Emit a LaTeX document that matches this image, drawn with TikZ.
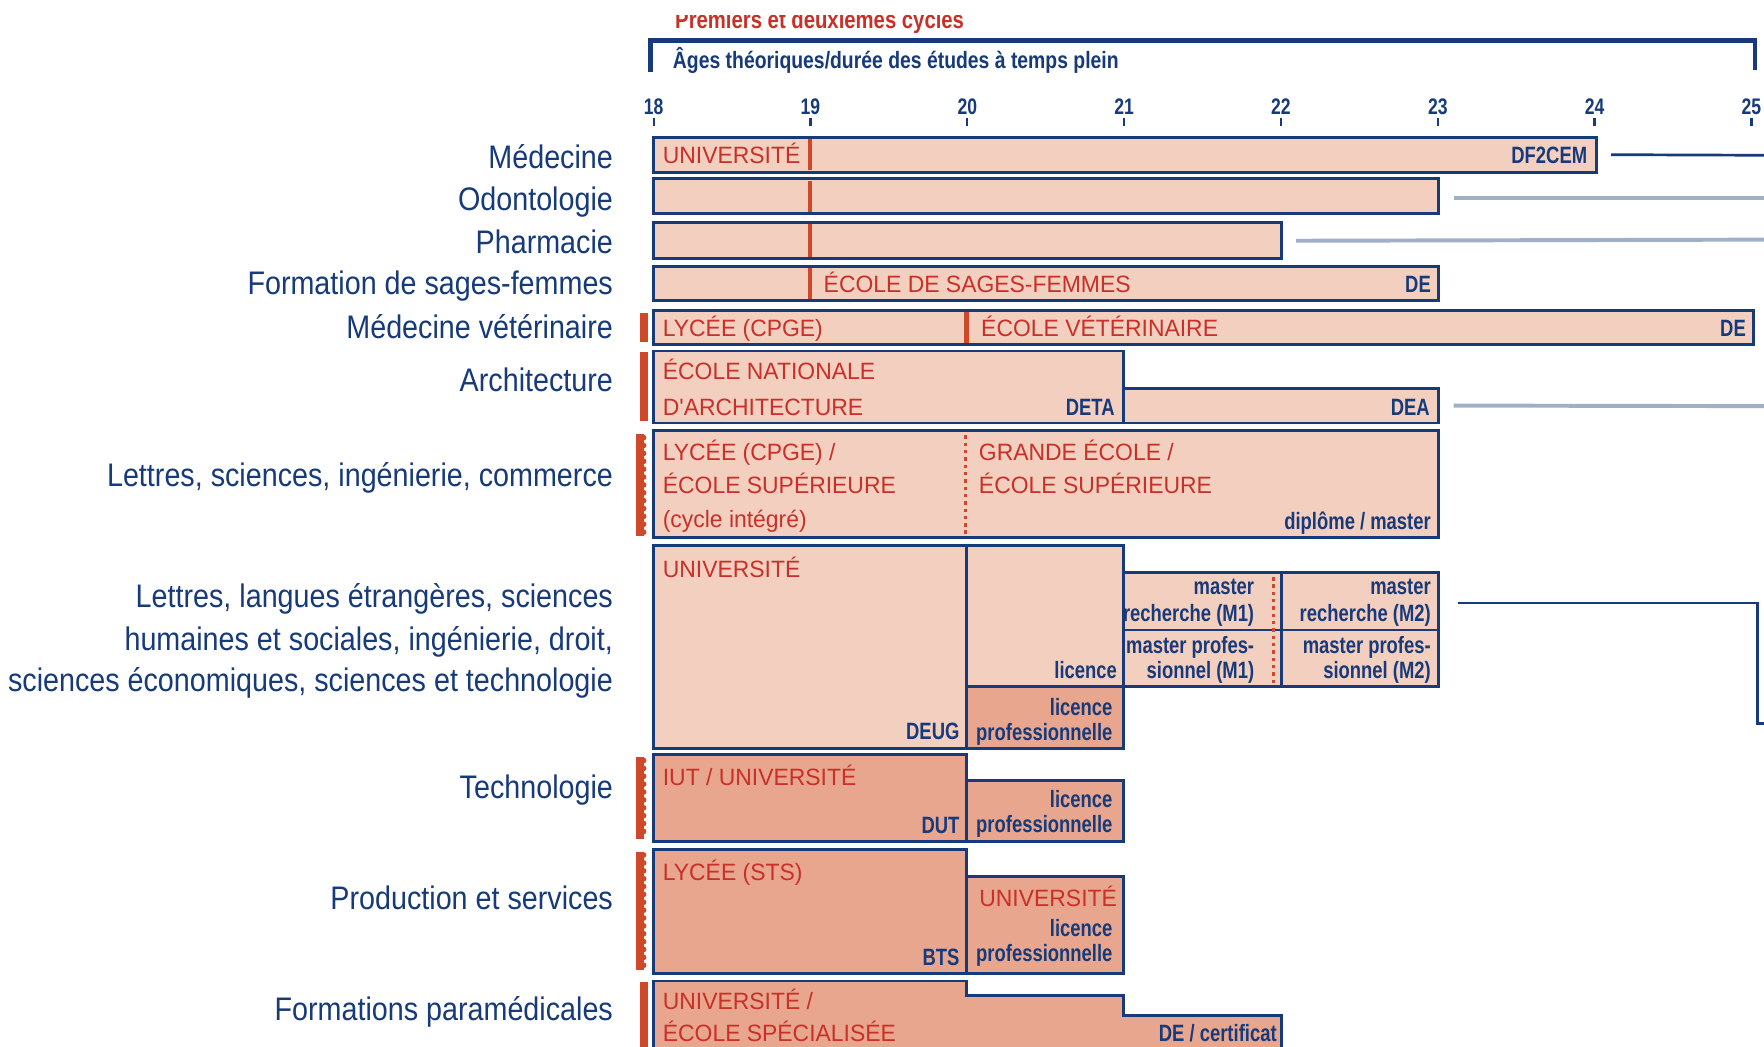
\documentclass[tikz,border=0pt]{standalone}
\usepackage{fontspec}
\setmainfont{Liberation Sans}
\newfontfamily\lblfamily{Liberation Sans}[FakeStretch=0.88]
\newfontfamily\capsfamily{Liberation Sans}[FakeStretch=0.97]
\newfontfamily\narrowfamily{Liberation Sans Bold}[FakeStretch=0.78]
\newfontfamily\hdrfamily{Liberation Sans Bold}[FakeStretch=0.82]
\definecolor{cNavy}{RGB}{22,58,122}
\definecolor{cRed}{RGB}{200,48,40}
\definecolor{cBar}{RGB}{208,72,42}
\definecolor{cLight}{RGB}{243,207,192}
\definecolor{cDark}{RGB}{233,166,142}
\definecolor{cGray}{RGB}{160,174,200}
\tikzset{
  bx/.style={draw=cNavy, line width=2.6pt, fill=cLight, inner sep=0pt, outer sep=0pt, anchor=north west},
  bxd/.style={bx, fill=cDark},
  rtxt/.style={text=cRed, font=\capsfamily\fontsize{21}{30}\selectfont, inner sep=0pt, anchor=base west},
  rtxtr/.style={rtxt, anchor=base east},
  btxt/.style={text=cNavy, font=\narrowfamily\fontsize{21}{22}\selectfont, inner sep=0pt, anchor=base east},
  lbl/.style={text=cNavy, font=\lblfamily\fontsize{29}{38}\selectfont, inner sep=0pt, anchor=base east},
  redbar/.style={draw=cBar, line width=4pt},
  reddots/.style={draw=cBar, line width=2.5pt, dash pattern=on 3pt off 3.5pt},
  link/.style={draw=cNavy, line width=2.4pt},
  graylink/.style={draw=cGray, line width=3.5pt},
  tick/.style={draw=cNavy, line width=2pt},
}
\newcommand\bxnode[6]{\node[#6, minimum width={(#4-#2)*1pt}, minimum height={(#5-#3)*1pt}] (#1) at (#2,#3) {};}
\newcommand\solidmark[2]{\fill[cBar] (569,#1) rectangle (576,#2);}
\newcommand\scallopmark[2]{\fill[cBar] (565,#1) rectangle (572,#2);
  \pgfmathsetmacro\sfirst{#1+3}\pgfmathsetmacro\ssecond{#1+10}\pgfmathsetmacro\slast{#2-3}
  \foreach \yy in {\sfirst,\ssecond,...,\slast} {\fill[cBar] (572,\yy) circle (2.6);}}
\begin{document}
\begin{tikzpicture}[x=1pt,y=-1pt]
\useasboundingbox (0,0) rectangle (1568,930);
\clip (0,0) rectangle (1568,930);
\fill[white] (0,0) rectangle (1568,930);

% header
\begin{scope}
\clip (0,14) rectangle (1568,60);
\node[text=cRed, font=\hdrfamily\fontsize{22}{22}\selectfont, inner sep=0pt, anchor=base west] (hdr) at (600,25) {Premiers et deuxièmes cycles};
\end{scope}
\draw[cNavy, line width=4pt] (578,64) -- (578,36) -- (1560,36) -- (1560,62);
\node[text=cNavy, font=\hdrfamily\fontsize{21}{22}\selectfont, inner sep=0pt, anchor=base west] (ages) at (598,61) {Âges théoriques/durée des études à temps plein};

% axis
\foreach \a in {18,...,25} {
  \pgfmathsetmacro\xx{581+(\a-18)*139.4}
  \node[text=cNavy, font=\narrowfamily\fontsize{20}{22}\selectfont, inner sep=0pt, anchor=base] (age\a) at (\xx,102) {\a};
  \draw[tick] (\xx,105) -- (\xx,112);
}

% left labels
\node[lbl] (l1) at (545,150) {Médecine};
\node[lbl] (l2) at (545,187) {Odontologie};
\node[lbl] (l3) at (545,225) {Pharmacie};
\node[lbl] (l4) at (545,262) {Formation de sages-femmes};
\node[lbl] (l5) at (545,301) {Médecine vétérinaire};
\node[lbl] (l6) at (545,348) {Architecture};
\node[lbl] (l7) at (545,432) {Lettres, sciences, ingénierie, commerce};
\node[lbl] (l8a) at (545,540) {Lettres, langues étrangères, sciences};
\node[lbl] (l8b) at (545,578) {humaines et sociales, ingénierie, droit,};
\node[lbl] (l8c) at (545,615) {sciences économiques, sciences et technologie};
\node[lbl] (l9) at (545,710) {Technologie};
\node[lbl] (l10) at (545,808) {Production et services};
\node[lbl] (l11) at (545,907) {Formations paramédicales};

% markers
\solidmark{278}{304}
\solidmark{313}{374}
\scallopmark{386}{476}
\scallopmark{673}{746}
\scallopmark{757}{862}
\solidmark{873}{932}

% boxes
\bxnode{med}{581}{122}{1419}{153}{bx}
\bxnode{odo}{581}{159}{1279}{190}{bx}
\bxnode{pha}{581}{198}{1139}{230}{bx}
\bxnode{sf}{581}{237}{1279}{267}{bx}
\bxnode{vet}{581}{276}{1559}{306}{bx}
\bxnode{archa}{581}{312}{999}{376}{bx}
\bxnode{archb}{999}{345}{1279}{376}{bx}
\bxnode{lsic}{581}{383}{1279}{478}{bx}
\bxnode{univ}{581}{485}{859}{665}{bx}
\bxnode{lic}{859}{485}{999}{610}{bx}
\bxnode{licpro}{859}{610}{999}{665}{bxd}
\bxnode{mra}{999}{509}{1139}{560}{bx}
\bxnode{mpa}{999}{560}{1139}{610}{bx}
\bxnode{mrb}{1139}{509}{1279}{560}{bx}
\bxnode{mpb}{1139}{560}{1279}{610}{bx}
\bxnode{iut}{581}{671}{859}{748}{bxd}
\bxnode{iutlp}{859}{694}{999}{748}{bxd}
\bxnode{sts}{581}{755}{859}{865}{bxd}
\bxnode{stslp}{859}{779}{999}{865}{bxd}
\draw[draw=cNavy, line width=2.6pt, fill=cDark] (581,940) -- (581,872) -- (859,872) -- (859,885) -- (999,885) -- (999,903) -- (1139,903) -- (1139,940) -- cycle;

% red separators
\draw[redbar] (720,123.5) -- (720,151.5);
\draw[redbar] (720,160.5) -- (720,188.5);
\draw[redbar] (720,199.5) -- (720,228.5);
\draw[redbar] (720,238.5) -- (720,265.5);
\draw[redbar] (859,277.5) -- (859,304.5);
\draw[reddots] (858,387) -- (858,476);
\draw[reddots] (1132,513) -- (1132,608);

% texts in boxes
\node[rtxt] (t1) at (589,145) {UNIVERSITÉ};
\node[btxt] (d1) at (1411,145) {DF2CEM};
\node[rtxt] (t4) at (732,260) {ÉCOLE DE SAGES-FEMMES};
\node[btxt] (d4) at (1272,260) {DE};
\node[rtxt] (t5a) at (589,299) {LYCÉE (CPGE)};
\node[rtxt] (t5b) at (872,299) {ÉCOLE VÉTÉRINAIRE};
\node[btxt] (d5) at (1552,299) {DE};
\node[rtxt] (t6a) at (589,337) {ÉCOLE NATIONALE};
\node[rtxt] (t6b) at (589,369) {D'ARCHITECTURE};
\node[btxt] (d6a) at (991,369) {DETA};
\node[btxt] (d6b) at (1271,369) {DEA};
\node[rtxt] (t7a) at (589,409) {LYCÉE (CPGE) /};
\node[rtxt] (t7b) at (589,439) {ÉCOLE SUPÉRIEURE};
\node[rtxt] (t7c) at (589,469) {(cycle intégré)};
\node[rtxt] (t7d) at (870,409) {GRANDE ÉCOLE /};
\node[rtxt] (t7e) at (870,439) {ÉCOLE SUPÉRIEURE};
\node[btxt] (d7) at (1272,471) {diplôme / master};
\node[rtxt] (t8) at (589,513) {UNIVERSITÉ};
\node[btxt] (d8a) at (853,657) {DEUG};
\node[btxt] (d8b) at (993,603) {licence};
\node[btxt] (d8c) at (989,636) {licence};
\node[btxt] (d8d) at (989,658) {professionnelle};
\node[btxt] (m1a) at (1115,528) {master};
\node[btxt] (m1b) at (1115,552) {recherche (M1)};
\node[btxt] (m1c) at (1115,581) {master profes-};
\node[btxt] (m1d) at (1115,603) {sionnel (M1)};
\node[btxt] (m2a) at (1272,528) {master};
\node[btxt] (m2b) at (1272,552) {recherche (M2)};
\node[btxt] (m2c) at (1272,581) {master profes-};
\node[btxt] (m2d) at (1272,603) {sionnel (M2)};
\node[rtxt] (t9) at (589,698) {IUT / UNIVERSITÉ};
\node[btxt] (d9a) at (853,741) {DUT};
\node[btxt] (d9b) at (989,718) {licence};
\node[btxt] (d9c) at (989,740) {professionnelle};
\node[rtxt] (t10) at (589,783) {LYCÉE (STS)};
\node[btxt] (d10a) at (853,858) {BTS};
\node[rtxtr] (t10b) at (993,806) {UNIVERSITÉ};
\node[btxt] (d10b) at (989,832) {licence};
\node[btxt] (d10c) at (989,855) {professionnelle};
\node[rtxt] (t11a) at (589,897) {UNIVERSITÉ /};
\node[rtxt] (t11b) at (589,926) {ÉCOLE SPÉCIALISÉE};
\node[btxt] (d11) at (1135,926) {DE / certificat};

% continuation lines
\coordinate (e1) at (1568,138);
\coordinate (e2) at (1568,176);
\coordinate (e3) at (1568,213);
\coordinate (e6) at (1568,361);
\coordinate (e8a) at (1562,536);
\coordinate (e8b) at (1562,643);
\coordinate (e8c) at (1568,643);
\draw[link] ([xshift=13pt]med.east) -- (e1);
\draw[graylink] ([xshift=13pt,yshift=-1.5pt]odo.east) -- (e2);
\draw[graylink] ([xshift=13pt]pha.east) -- (e3);
\draw[graylink] ([xshift=13pt]archb.east) -- (e6);
\draw[link] ([xshift=17pt,yshift=-1.5pt]mrb.east) -- (e8a) -- (e8b) -- (e8c);
\end{tikzpicture}
\end{document}
